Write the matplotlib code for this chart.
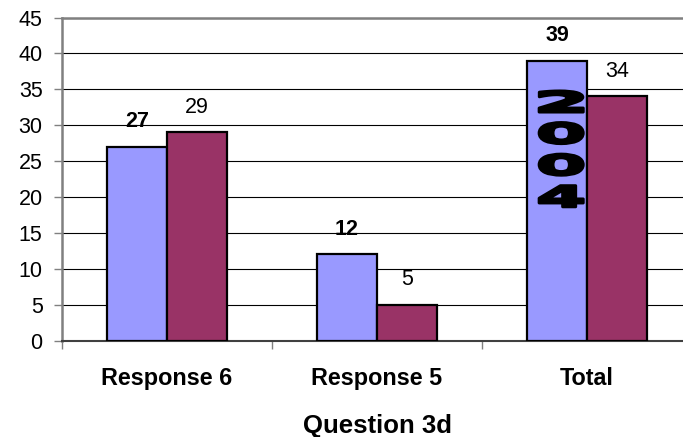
import numpy as np
import matplotlib.pyplot as plt
import matplotlib.transforms as mtransforms
from matplotlib.textpath import TextPath
from matplotlib.patches import PathPatch
from matplotlib.font_manager import FontProperties

categories = ['Response 6', 'Response 5', 'Total']
blue_vals = [27, 12, 39]
red_vals = [29, 5, 34]
yticks = list(range(0, 50, 5))
stamp = '2004'

plt.rcParams['font.family'] = ['Liberation Sans', 'DejaVu Sans']

fig = plt.figure(figsize=(6.83, 4.37), dpi=100)
ax = fig.add_axes([0.0908, 0.2208, 0.9224, 0.7391])

x = np.arange(len(categories))
w = 0.286
b1 = ax.bar(x - w / 2, blue_vals, w, color='#9999FF', edgecolor='black', linewidth=1.6, zorder=3)
b2 = ax.bar(x + w / 2, red_vals, w, color='#993366', edgecolor='black', linewidth=1.6, zorder=3)

# value labels: bold for the blue series, regular for the red one
for bars, vals, wt in [(b1, blue_vals, 'bold'), (b2, red_vals, 'normal')]:
    for r, v in zip(bars, vals):
        ax.annotate(str(v), (r.get_x() + r.get_width() / 2, v), xytext=(0, 14),
                    textcoords='offset points', ha='center', va='baseline',
                    fontsize=15.5, fontweight=wt, zorder=5)

# stacked "2004" drawn inside the Total bar, wide heavy glyphs
fp = FontProperties(family='DejaVu Sans', weight='bold')
cx = x[2] - w / 2 + 0.02
for i, ch in enumerate(stamp):
    cy = 33.3 - 4.4 * i
    tp = TextPath((0, 0), ch, size=1, prop=fp)
    bb = tp.get_extents()
    tr = (mtransforms.Affine2D()
          .translate(-bb.x0 - bb.width / 2, -bb.y0 - bb.height / 2)
          .scale(44 / bb.width, 21 / bb.height)
          + mtransforms.ScaledTranslation(cx, cy, ax.transData))
    ax.add_patch(PathPatch(tp, transform=tr, facecolor='black', edgecolor='black',
                           linewidth=2.2, joinstyle='round', zorder=4))

ax.set_xlim(-0.5, 2.5)
ax.set_ylim(0, 45)
ax.set_yticks(yticks)
ax.set_yticklabels([str(t) for t in yticks], fontsize=15.5)
ax.tick_params(axis='y', length=6, width=1, color='#808080', pad=8)

ax.set_xticks([-0.5, 0.5, 1.5, 2.5])
ax.set_xticklabels([])
ax.tick_params(axis='x', which='major', length=6, width=1, color='#808080')
ax.set_xticks(x, minor=True)
ax.set_xticklabels(categories, minor=True, fontsize=16.8, fontweight='bold')
ax.tick_params(axis='x', which='minor', length=0, pad=19)

ax.yaxis.grid(True, color='black', linewidth=0.8)
ax.set_axisbelow(True)

for s in ['left', 'top']:
    ax.spines[s].set_color('#808080')
    ax.spines[s].set_linewidth(1.8)
ax.spines['bottom'].set_color('#404040')
ax.spines['bottom'].set_linewidth(1.5)
ax.spines['right'].set_visible(False)

ax.set_xlabel('Question 3d', fontsize=18.5, fontweight='bold', labelpad=17)

fig.savefig('out.png', dpi=100)
